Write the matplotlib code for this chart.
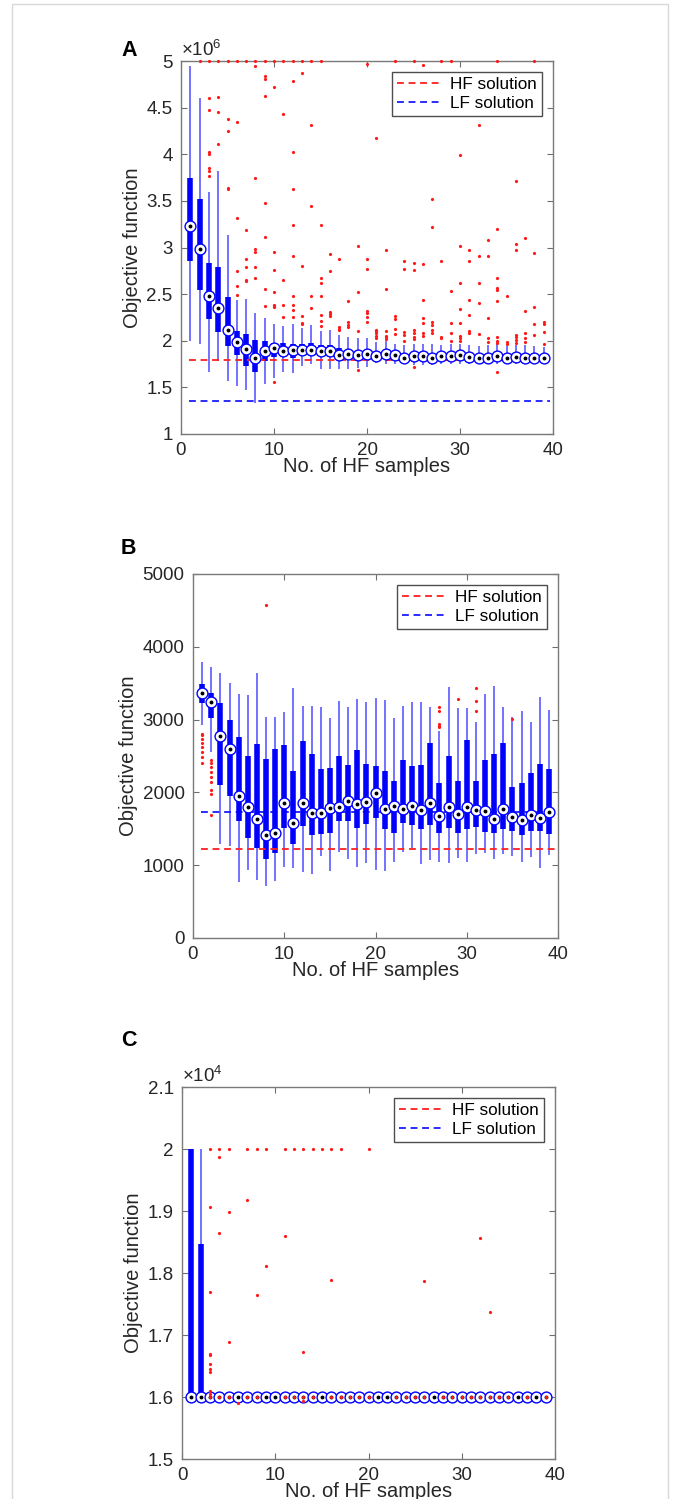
import numpy as np
import matplotlib
matplotlib.use('Agg')
import matplotlib.pyplot as plt
from matplotlib.patches import Rectangle
from matplotlib.ticker import FuncFormatter


# Données

x_samples = list(range(1, 40))

# Panneau A (x 1e6)
a_med = [3.23, 2.98, 2.48, 2.35, 2.12, 1.99, 1.91, 1.82, 1.89, 1.92, 1.89, 1.90, 1.90, 1.90, 1.89, 1.89, 1.85, 1.86, 1.85, 1.86,
         1.84, 1.86, 1.85, 1.82, 1.84, 1.84, 1.81, 1.84, 1.84, 1.85, 1.83, 1.81, 1.82, 1.84, 1.82, 1.83, 1.82, 1.82, 1.81]
a_q3 = [3.75, 3.52, 2.83, 2.79, 2.47, 2.10, 2.07, 2.01, 2.00, 1.98, 1.98, 1.97, 1.96, 1.98, 1.95, 1.95, 1.92, 1.90, 1.89, 1.90,
        1.88, 1.89, 1.88, 1.86, 1.87, 1.87, 1.85, 1.87, 1.87, 1.88, 1.86, 1.85, 1.85, 1.87, 1.85, 1.86, 1.85, 1.85, 1.84]
a_q1 = [2.85, 2.54, 2.23, 2.09, 1.94, 1.85, 1.73, 1.67, 1.78, 1.83, 1.83, 1.82, 1.86, 1.85, 1.85, 1.86, 1.81, 1.81, 1.81, 1.81,
        1.80, 1.81, 1.80, 1.79, 1.80, 1.80, 1.79, 1.80, 1.80, 1.80, 1.79, 1.79, 1.79, 1.79, 1.79, 1.79, 1.79, 1.79, 1.78]
a_whi = [4.95, 4.60, 3.60, 3.82, 3.13, 2.44, 2.45, 2.30, 2.24, 2.18, 2.16, 2.18, 2.14, 2.17, 2.10, 2.11, 2.06, 2.04, 2.03, 2.03,
         1.99, 2.00, 1.96, 1.95, 1.97, 1.96, 1.96, 1.95, 1.96, 1.97, 1.95, 1.94, 1.95, 1.96, 1.94, 1.95, 1.95, 1.94, 1.93]
a_wlo = [2.00, 1.96, 1.67, 1.78, 1.57, 1.51, 1.47, 1.33, 1.54, 1.60, 1.67, 1.65, 1.73, 1.75, 1.70, 1.70, 1.70, 1.70, 1.71, 1.72,
         1.76, 1.75, 1.75, 1.75, 1.74, 1.74, 1.74, 1.75, 1.75, 1.75, 1.75, 1.75, 1.75, 1.75, 1.75, 1.75, 1.75, 1.75, 1.75]
a_out = [[], [5.0], [5.0, 4.60, 4.47, 4.02, 4.0, 3.85, 3.82, 3.77], [5.0, 4.61, 4.45, 4.11], [5.0, 4.38, 4.25, 3.64, 3.63],
         [5.0, 4.35, 3.32, 2.75, 2.59, 2.49], [5.0, 3.19, 2.88, 2.79, 2.65, 2.64], [5.0, 4.95, 3.75, 2.98, 2.95, 2.79, 2.67],
         [5.0, 4.84, 4.81, 4.63, 3.48, 3.11, 2.56, 2.37], [5.0, 4.72, 2.95, 2.76, 2.52, 2.38, 2.37, 2.36, 1.56],
         [5.0, 4.43, 2.65, 2.38, 2.25], [5.0, 4.79, 4.02, 3.63, 3.24, 2.91, 2.48, 2.38, 2.33, 2.25],
         [5.0, 4.87, 2.80, 2.27, 2.19, 2.18], [5.0, 4.31, 3.45, 2.48, 2.35], [5.0, 3.24, 2.67, 2.62, 2.48, 2.28, 2.21, 2.16],
         [2.93, 2.75, 2.31, 2.29, 2.27], [2.88, 2.15, 2.13, 2.12], [2.43, 2.20, 2.17, 2.15], [3.02, 2.52, 2.10, 1.69],
         [4.97, 2.88, 2.77, 2.32, 2.30, 2.25, 2.20], [4.17, 2.12, 2.10, 2.08, 2.05, 2.03], [2.97, 2.56, 2.10, 2.05, 2.04, 2.02],
         [5.0, 2.27, 2.23, 2.13, 2.07], [2.86, 2.77, 2.09, 2.06, 2.00], [5.0, 2.83, 2.76, 2.12, 2.08, 2.04, 2.02, 1.72],
         [4.96, 2.82, 2.44, 2.24, 2.19, 2.08, 2.05], [3.52, 3.22, 2.20, 2.17, 2.12, 2.08], [5.0, 2.85, 2.04, 2.03],
         [5.0, 2.53, 2.19, 2.08, 2.0], [3.99, 3.02, 2.62, 2.34, 2.19, 2.05, 2.03, 2.00], [2.97, 2.86, 2.44, 2.28, 2.10, 2.08],
         [4.31, 2.91, 2.62, 2.40, 2.07], [3.08, 2.91, 2.24, 2.03, 1.99],
         [5.0, 3.20, 2.67, 2.57, 2.54, 2.43, 2.04, 2.00, 1.98, 1.67], [2.48, 1.99, 1.97],
         [3.71, 3.04, 2.97, 2.06, 2.04, 2.01, 1.98], [3.10, 2.32, 2.08, 2.03, 1.99], [5.0, 2.94, 2.36, 2.18, 2.06],
         [2.20, 2.18, 2.09, 1.96]]
a_hf, a_lf = 1.79, 1.35

# Panneau B
b_med = [3362, 3238, 2773, 2591, 1948, 1793, 1629, 1414, 1437, 1861, 1583, 1857, 1720, 1716, 1783, 1802, 1883, 1838, 1865, 1994,
         1775, 1815, 1770, 1811, 1756, 1861, 1674, 1802, 1701, 1802, 1765, 1747, 1629, 1770, 1665, 1620, 1688, 1651, 1724]
b_q3 = [3489, 3366, 3229, 2988, 2760, 2495, 2659, 2463, 2600, 2646, 2295, 2705, 2532, 2317, 2336, 2495, 2371, 2577, 2395, 2358,
        2290, 2157, 2440, 2358, 2371, 2682, 2130, 2500, 2153, 2714, 2153, 2450, 2523, 2682, 2075, 2135, 2266, 2394, 2326]
b_q1 = [3229, 3020, 2098, 1953, 1610, 1369, 1240, 1081, 1172, 1506, 1291, 1542, 1414, 1427, 1446, 1610, 1610, 1514, 1564, 1650,
        1491, 1436, 1573, 1551, 1491, 1551, 1436, 1505, 1436, 1496, 1528, 1450, 1436, 1496, 1468, 1414, 1468, 1468, 1427]
b_whi = [3795, 3717, 3640, 3508, 3352, 3343, 3635, 3033, 3033, 3102, 3435, 3193, 3193, 3170, 3024, 3252, 3179, 3284, 3238, 3290,
         3270, 3020, 3193, 3238, 3247, 3170, 2850, 3443, 3156, 3161, 2965, 3352, 3466, 3179, 3033, 3115, 2965, 3307, 3133]
b_wlo = [2919, 2560, 1291, 1264, 767, 936, 790, 716, 785, 972, 958, 913, 881, 1127, 922, 1186, 1080, 980, 1027, 935,
         922, 1049, 1186, 1230, 1018, 1072, 1050, 1030, 1095, 1050, 1150, 1172, 1090, 1150, 1130, 1050, 1110, 967, 1140]
b_out = {1: [2805, 2782, 2737, 2682, 2623, 2554, 2486, 2408],
         2: [2450, 2404, 2349, 2280, 2212, 2143, 2029, 1974, 1687],
         8: [4570], 27: [3170, 3125, 2941, 2918, 2895], 29: [3284], 31: [3435, 3261, 3125], 35: [3010]}
b_hf, b_lf = 1218, 1725

# Panneau C (x 1e4)
c_med = [1.6] * 39
c_q1 = [1.6] * 39
c_q3 = [2.0, 1.847] + [1.6] * 37
c_whi = [2.0, 2.0] + [1.6] * 37
c_wlo = [1.6] * 39
c_out = {3: [2.0, 1.907, 1.770, 1.670, 1.668, 1.653, 1.645, 1.641, 1.61, 1.605, 1.6], 4: [2.0, 1.987, 1.864, 1.6],
         5: [2.0, 1.898, 1.688, 1.6], 6: [1.591], 7: [2.0, 1.918, 1.6], 8: [2.0, 1.765, 1.6], 9: [2.0, 1.811],
         11: [2.0, 1.859, 1.6], 12: [2.0, 1.6], 13: [2.0, 1.673, 1.593, 1.6], 14: [2.0, 1.6], 15: [2.0],
         16: [2.0, 1.788, 1.6], 17: [2.0, 1.6], 18: [1.6], 19: [1.6], 20: [2.0, 1.6], 23: [1.6], 24: [1.6], 25: [1.6],
         26: [1.787, 1.6], 28: [1.6], 29: [1.6], 30: [1.6], 31: [1.6], 32: [1.857, 1.6], 33: [1.737, 1.6],
         34: [1.6], 35: [1.6], 37: [1.6], 39: [1.6]}
c_hf, c_lf = 1.6, 1.6


plt.rcParams['font.family'] = ['Liberation Sans', 'DejaVu Sans']
plt.rcParams['mathtext.fontset'] = 'custom'
plt.rcParams['mathtext.rm'] = 'Liberation Sans'

W, H = 680, 1499
fig = plt.figure(figsize=(W / 100, H / 100), dpi=100)

# cadre gris clair autour de la figure
fig.patches.append(Rectangle((12 / W, -0.01), 656 / W, 1.01 - 4 / H, transform=fig.transFigure,
                             fill=False, edgecolor='#d8d8d8', lw=1.0))


def px_axes(left, right, top, bottom):
    return fig.add_axes([left / W, 1 - bottom / H, (right - left) / W, (bottom - top) / H])


def draw_panel(ax, med, q1, q3, wlo, whi, out, hf, lf, ylim, yticks, mult):
    lc = ax.vlines(x_samples, wlo, whi, color='#5a5aff', lw=1.2, zorder=2)
    lc.set_capstyle('butt')
    bc = ax.vlines(x_samples, q1, q3, color='#0000ff', lw=4.0, zorder=3)
    bc.set_capstyle('butt')
    ax.plot([0.9, 39.7], [hf, hf], color='#ff2020', lw=1.3, dashes=(3.8, 2.6), label='HF solution', zorder=3.5)
    ax.plot([0.9, 39.7], [lf, lf], color='#1a1aff', lw=1.3, dashes=(3.8, 2.6), label='LF solution', zorder=2.5)
    ax.plot(x_samples, med, 'o', ms=7.8, mfc='white', mec='#0000ff', mew=1.0, ls='none', zorder=4)
    ax.plot(x_samples, med, 'o', ms=1.8, color='black', ls='none', zorder=5)
    if isinstance(out, dict):
        items = out.items()
    else:
        items = [(i + 1, v) for i, v in enumerate(out)]
    ox, oy = [], []
    for k, vals in items:
        for v in vals:
            ox.append(k)
            oy.append(v)
    ax.plot(ox, oy, 'o', ms=2.3, color='#ff1a1a', mew=0, ls='none', zorder=6, clip_on=False)

    ax.set_xlim(0, 40)
    ax.set_ylim(*ylim)
    ax.set_xticks([0, 10, 20, 30, 40])
    ax.set_yticks(yticks)
    ax.yaxis.set_major_formatter(FuncFormatter(lambda v, p: '%g' % round(v, 3)))
    ax.tick_params(direction='in', length=4, width=0.8, top=True, right=True, labelsize=13.5,
                   colors='#6e6e6e', labelcolor='#262626', pad=6)
    for s in ax.spines.values():
        s.set_color('#7a7a7a')
        s.set_linewidth(1.0)
    ax.set_xlabel('No. of HF samples', fontsize=14.5, color='#262626', labelpad=-2)
    ax.set_ylabel('Objective function', fontsize=14.5, color='#262626', labelpad=3)
    leg = ax.legend(loc='upper right', fontsize=12.3, frameon=True, fancybox=False, framealpha=1,
                    edgecolor='#4d4d4d', borderaxespad=0.65, handlelength=2.6, handletextpad=0.5,
                    borderpad=0.3, labelspacing=0.2)
    leg.get_frame().set_linewidth(1.0)
    if mult:
        ax.text(0.0, 1.004, '\u00d710$^{%d}$' % mult, transform=ax.transAxes, ha='left', va='bottom',
                fontsize=13.5, color='#262626')


axA = px_axes(181, 553, 61, 434)
draw_panel(axA, a_med, a_q1, a_q3, a_wlo, a_whi, a_out, a_hf, a_lf, (1, 5), [1, 1.5, 2, 2.5, 3, 3.5, 4, 4.5, 5], 6)

axB = px_axes(193, 558, 574, 938)
draw_panel(axB, b_med, b_q1, b_q3, b_wlo, b_whi, b_out, b_hf, b_lf, (0, 5000), [0, 1000, 2000, 3000, 4000, 5000], 0)

axC = px_axes(182, 555, 1087, 1459)
draw_panel(axC, c_med, c_q1, c_q3, c_wlo, c_whi, c_out, c_hf, c_lf, (1.5, 2.1), [1.5, 1.6, 1.7, 1.8, 1.9, 2.0, 2.1], 4)

for lab, yc in [('A', 50), ('B', 548), ('C', 1040)]:
    fig.text(121 / W, 1 - yc / H, lab, fontsize=15.5, fontweight='bold', ha='left', va='center', color='black')

fig.savefig('out.png', dpi=100)
